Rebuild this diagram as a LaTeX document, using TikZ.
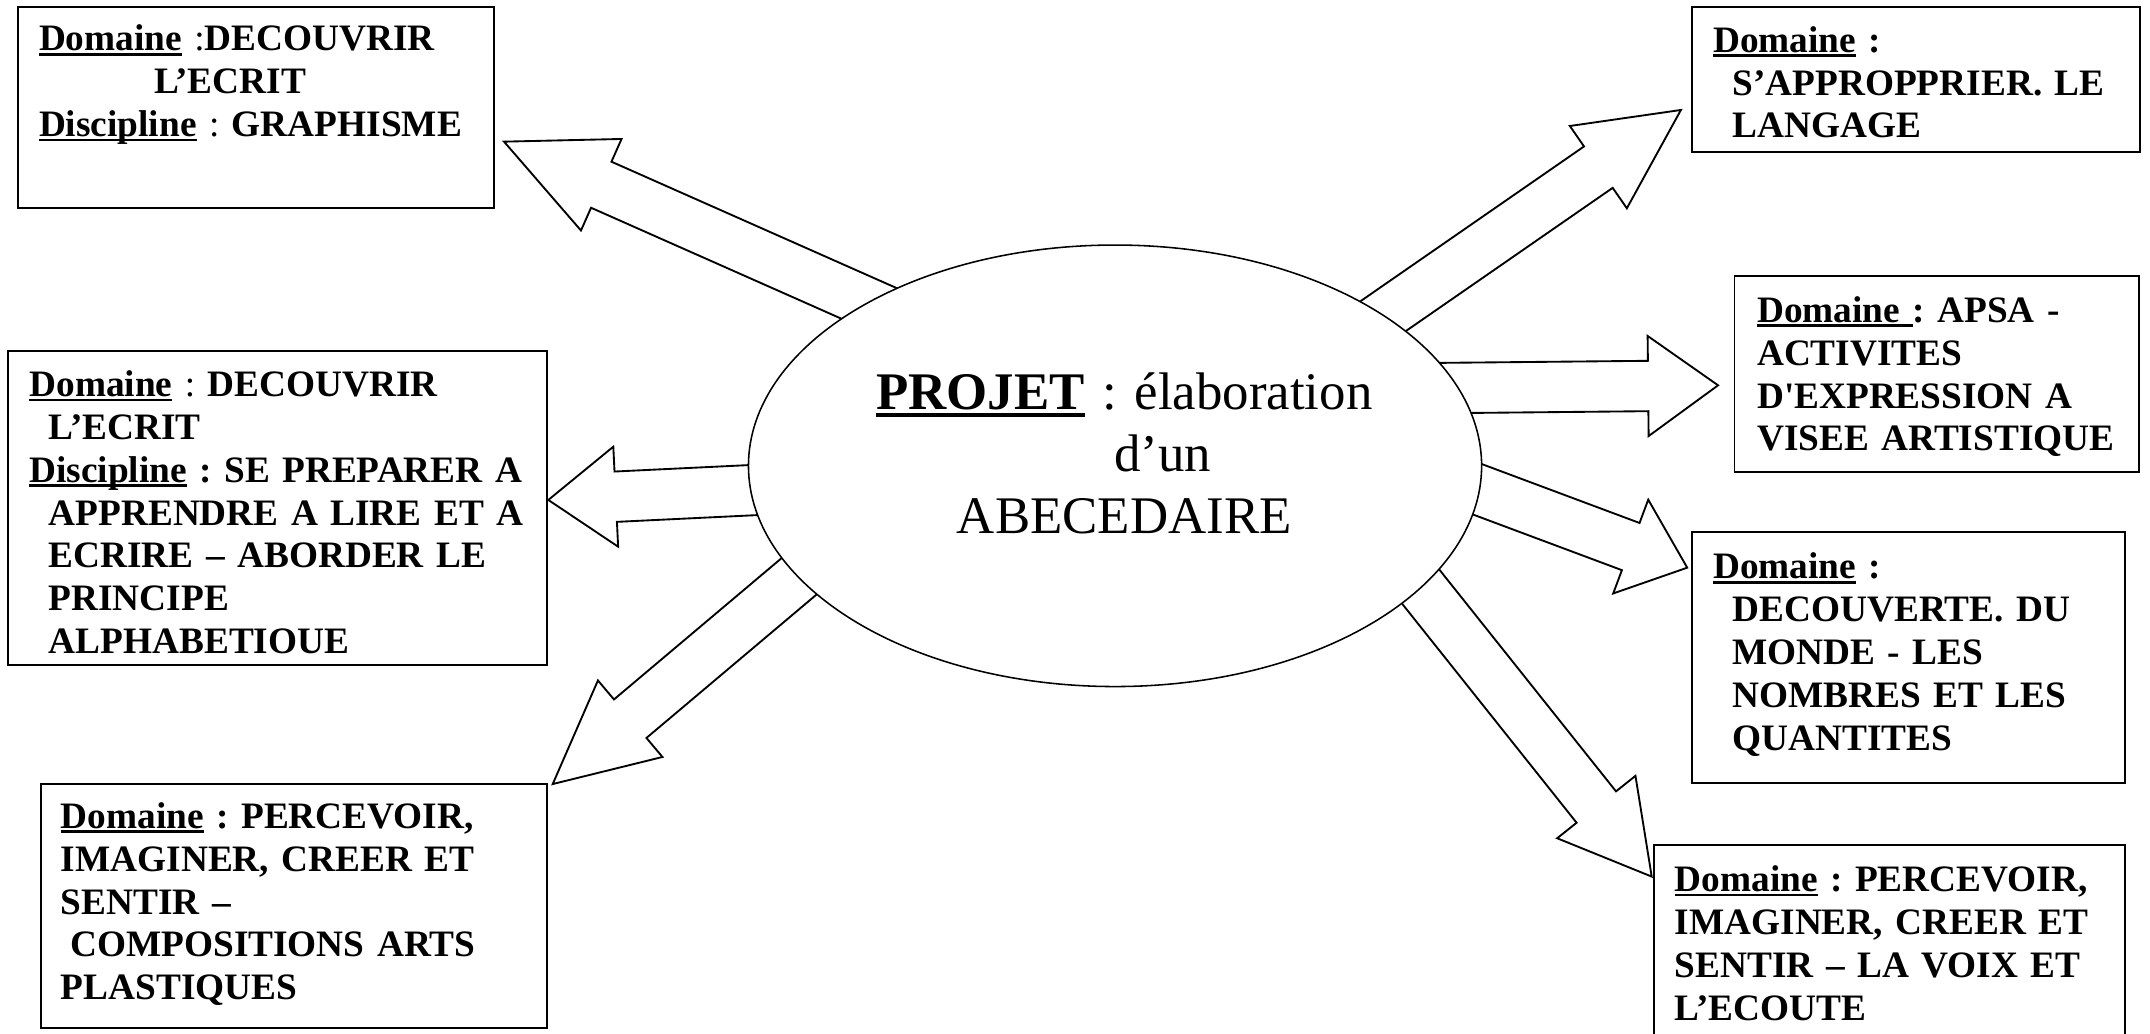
\documentclass[tikz,border=0pt]{standalone}
\usepackage{fontspec}
\setmainfont{Liberation Serif}
\usetikzlibrary{calc,fit,shapes.geometric}
\frenchspacing
\newcommand\souligne[1]{\leavevmode\setbox0\hbox{#1}\rlap{\rule[-0.13em]{\wd0}{0.07em}}\box0\relax}
% block arrow: #1 tail, #2 tip, #3 head length
\newcommand\BlockArrow[3]{%
\coordinate (#2 base) at ($(#2)!#3!(#1)$);
\draw[blockarrow] ($(#1)!8.1pt!90:(#2)$) -- ($(#2 base)!8.1pt!90:(#2)$) -- ($(#2 base)!16.1pt!90:(#2)$) -- (#2) -- ($(#2 base)!16.1pt!-90:(#2)$) -- ($(#2 base)!8.1pt!-90:(#2)$) -- ($(#1)!8.1pt!-90:(#2)$) -- cycle;}
\tikzset{
  frame/.style={draw, line width=0.6pt, inner sep=0pt},
  boxtext/.style={anchor=base west, inner sep=0pt, text width=200pt, align=left,
    font=\fontsize{12}{13.8}\selectfont\bfseries},
  blockarrow/.style={draw, fill=white, line width=0.6pt, line join=miter},
}
\begin{document}
\begin{tikzpicture}[x=0.441pt,y=-0.441pt]
\useasboundingbox (0,0) rectangle (1568,754);
\filldraw[color=white] (0,0) rectangle (1568,754);
\clip (0,0) rectangle (1568,754);
% Drawing arrows
\coordinate (graphisme tail) at (696.6,249.1);
\coordinate (graphisme tip) at (367.6,103.3);
\coordinate (lecture tail) at (649.4,352.6);
\coordinate (lecture tip) at (399.9,364.6);
\coordinate (plastiques tail) at (617.3,391.2);
\coordinate (plastiques tip) at (403.1,571.8);
\coordinate (langage tail) at (962.9,262.3);
\coordinate (langage tip) at (1225.9,80.2);
\coordinate (expression tail) at (950.0,284.0);
\coordinate (expression tip) at (1253.0,281.0);
\coordinate (nombres tail) at (949.4,309.0);
\coordinate (nombres tip) at (1230.5,414.0);
\coordinate (voix tail) at (1017.7,404.7);
\coordinate (voix tip) at (1204.6,639.3);
\BlockArrow{graphisme tail}{graphisme tip}{34.2pt}
\BlockArrow{lecture tail}{lecture tip}{21.7pt}
\BlockArrow{plastiques tail}{plastiques tip}{32.6pt}
\BlockArrow{langage tail}{langage tip}{32.3pt}
\BlockArrow{expression tail}{expression tip}{22.5pt}
\BlockArrow{nombres tail}{nombres tip}{19.4pt}
\BlockArrow{voix tail}{voix tip}{28.6pt}
% Done with arrows; drawing the project
\node[draw, ellipse, fill=white, line width=0.5pt, inner sep=0pt, minimum width=235.8pt, minimum height=142pt] (projet) at (813.2,339.7) {};
\node[anchor=base, inner sep=0pt, text width=230pt, align=center, font=\fontsize{17}{19.85}\selectfont] (projet text) at (820,299)
  {\souligne{\textbf{PROJET}} : élaboration\\ \hspace*{1.45em}d’un\\ ABECEDAIRE};
% Done with project; drawing boxes
\node[frame, fit={(13,5) (360,152)}] (graphisme) {};
\node[boxtext] (graphisme text) at (28,37)
  {\souligne{Domaine} {\mdseries:}DECOUVRIR\\ \hspace*{37pt}L’ECRIT\\ \souligne{Discipline} {\mdseries:} GRAPHISME};
\node[frame, fit={(6,256) (399,485)}] (lecture) {};
\node[boxtext] (lecture text) at (21,289)
  {\souligne{Domaine} {\mdseries:} DECOUVRIR\\ \hspace*{6.2pt}L’ECRIT\\ \souligne{Discipline} : SE PREPARER A\\ \hspace*{6.2pt}APPRENDRE A LIRE ET A\\ \hspace*{6.2pt}ECRIRE – ABORDER LE\\ \hspace*{6.2pt}PRINCIPE\\ \hspace*{6.2pt}ALPHABETIOUE};
\node[frame, fit={(30,572) (399,750)}] (plastiques) {};
\node[boxtext] (plastiques text) at (44,604)
  {\souligne{Domaine} : PERCEVOIR,\\ IMAGINER, CREER ET\\ SENTIR –\\ \hspace*{3pt}COMPOSITIONS ARTS\\ PLASTIQUES};
\node[frame, fit={(1234,5) (1561,111)}] (langage) {};
\node[boxtext] (langage text) at (1249,38)
  {\souligne{Domaine} :\\ \hspace*{6.2pt}S’APPROPPRIER. LE\\ \hspace*{6.2pt}LANGAGE};
\node[frame, fit={(1265,201) (1560,344)}] (expression) {};
\node[boxtext] (expression text) at (1281,235)
  {\souligne{Domaine\ }: APSA -\\ ACTIVITES\\ D\textquotesingle EXPRESSION A\\ VISEE ARTISTIQUE};
\node[frame, fit={(1234,388) (1550,571)}] (nombres) {};
\node[boxtext] (nombres text) at (1249,422)
  {\souligne{Domaine} :\\ \hspace*{6.2pt}DECOUVERTE. DU\\ \hspace*{6.2pt}MONDE - LES\\ \hspace*{6.2pt}NOMBRES ET LES\\ \hspace*{6.2pt}QUANTITES};
\node[frame, fit={(1206,616) (1550,780)}] (voix) {};
\node[boxtext] (voix text) at (1221,650)
  {\souligne{Domaine} : PERCEVOIR,\\ IMAGINER, CREER ET\\ SENTIR – LA VOIX ET\\ L’ECOUTE};
% Done with boxes
\end{tikzpicture}
\end{document}
